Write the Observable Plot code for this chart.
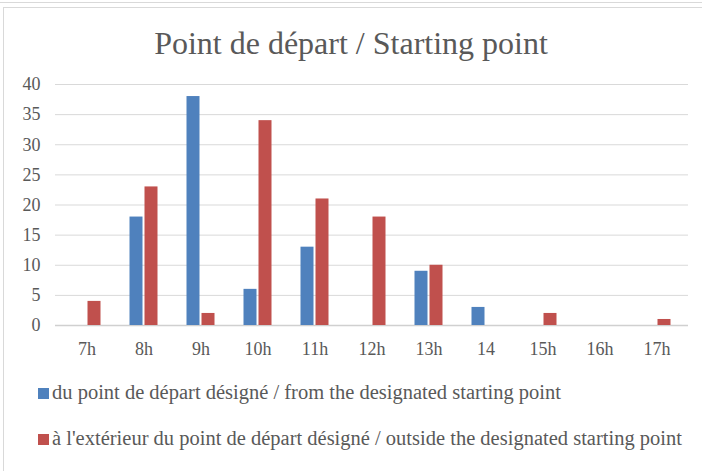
<!DOCTYPE html>
<html>
<head>
<meta charset="utf-8">
<script src="https://cdn.jsdelivr.net/npm/d3@7"></script>
<script src="https://cdn.jsdelivr.net/npm/@observablehq/plot@0.6"></script>
<style>
  body { margin: 0; background: #fff; font-family: "Liberation Serif", serif; overflow: hidden; }
  #frame { position: absolute; left: 3px; top: 7px; width: 720px; height: 480px; border-left: 1px solid #d9d9d9; border-top: 1px solid #d9d9d9; }
  #topline { position: absolute; left: 0; top: 2px; width: 702px; height: 1px; background: #d9d9d9; }
  #title { position: absolute; left: 0; width: 702px; top: 25px; text-align: center; font-size: 32px; color: #595959; }
  #chart { position: absolute; left: 0; top: 70px; }
  .leg { position: absolute; left: 38px; font-size: 20.5px; color: #595959; white-space: nowrap; line-height: 24px; }
  .sw { display: inline-block; width: 11px; height: 11px; margin-right: 3px; vertical-align: 0px; }
</style>
</head>
<body>
<div id="topline"></div>
<div id="frame"></div>
<div id="title">Point de départ / Starting point</div>
<div id="chart"></div>
<div class="leg" style="top:380px"><span class="sw" style="background:#4F81BD"></span>du point de départ désigné / from the designated starting point</div>
<div class="leg" style="top:426px"><span class="sw" style="background:#C0504D"></span>à l'extérieur du point de départ désigné / outside the designated starting point</div>
<script>
const categories = ["7h","8h","9h","10h","11h","12h","13h","14","15h","16h","17h"];
const fromDesignated = [0,18,38,6,13,0,9,3,0,0,0];
const outsideDesignated = [4,23,2,34,21,18,10,0,2,0,1];
const yTicks = [0,5,10,15,20,25,30,35,40];

const blue = categories.map((c,i)=>({cat:c, v:fromDesignated[i]}));
const red = categories.map((c,i)=>({cat:c, v:outsideDesignated[i]}));

const chart = Plot.plot({
  width: 702,
  height: 300,
  marginTop: 14,
  marginBottom: 45,
  marginLeft: 55,
  marginRight: 14,
  style: {fontFamily: "Liberation Serif, serif", fontSize: "18px", color: "#595959", background: "transparent"},
  x: {domain: categories, paddingInner: 0.77, paddingOuter: 0.41, label: null, tickSize: 0, tickPadding: 17},
  y: {domain: [0,40], ticks: yTicks, label: null, tickSize: 0, tickPadding: 15},
  marks: [
    Plot.ruleY(yTicks.filter(t=>t>0), {stroke: "#d9d9d9", strokeWidth: 1}),
    Plot.ruleY([0], {stroke: "#d0d0d0", strokeWidth: 1.5}),
    Plot.barY(blue, {x: "cat", y: "v", fill: "#4F81BD", dx: -7.5}),
    Plot.barY(red, {x: "cat", y: "v", fill: "#C0504D", dx: 7.5})
  ]
});
document.getElementById("chart").appendChild(chart);
</script>
</body>
</html>
